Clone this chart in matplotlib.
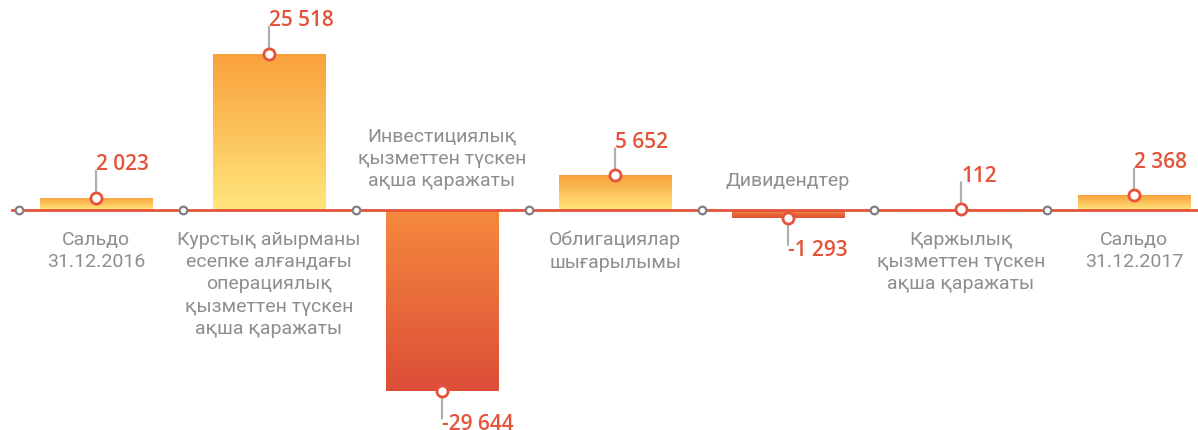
import numpy as np
import matplotlib
matplotlib.use("Agg")
import matplotlib.pyplot as plt
from matplotlib.colors import to_rgb

categories = [
    "Сальдо\n31.12.2016",
    "Курстық айырманы\nесепке алғандағы\nоперациялық\nқызметтен түскен\nақша қаражаты",
    "Инвестициялық\nқызметтен түскен\nақша қаражаты",
    "Облигациялар\nшығарылымы",
    "Дивидендтер",
    "Қаржылық\nқызметтен түскен\nақша қаражаты",
    "Сальдо\n31.12.2017",
]
values = [2023, 25518, -29644, 5652, -1293, 112, 2368]

RED = "#E4533A"
GREY_TXT = "#8E8E8E"
POS_TOP, POS_BOT = "#F9A03B", "#FFE67C"
NEG_TOP, NEG_BOT = "#F68A3D", "#DC4D38"

plt.rcParams["font.family"] = ["Open Sans", "DejaVu Sans"]
CAT_FONT = ["Roboto", "DejaVu Sans"]

fig = plt.figure(figsize=(11.98, 4.30), dpi=100)
ax = fig.add_axes([0, 0, 1, 1])
ax.axis("off")

x = np.arange(len(values))


def gradient(top, bottom, n=256):
    t = np.linspace(0, 1, n)[:, None]
    a, b = np.array(to_rgb(top)), np.array(to_rgb(bottom))
    return (a * (1 - t) + b * t)[:, None, :]


bars = ax.bar(x, values, width=0.65, color="none", edgecolor="none", zorder=1)
for bar, v in zip(bars, values):
    grad = gradient(POS_TOP, POS_BOT) if v >= 0 else gradient(NEG_TOP, NEG_BOT)
    x0 = bar.get_x()
    im = ax.imshow(grad, extent=[x0, x0 + bar.get_width(), min(0, v), max(0, v)],
                   aspect="auto", zorder=1, interpolation="bilinear")
    im.set_clip_path(bar)

# baseline with separators
ax.axhline(0, xmin=0.01, xmax=1, color=RED, lw=2, zorder=2)
seps = x - 0.5
seps[0] += 0.055
ax.plot(seps, np.zeros_like(seps), "o", ms=5.5, mfc="white", mec="#7F7F7F", mew=1.6, zorder=3)

px = 0.72  # points per pixel at 100 dpi
for xi, v, cat in zip(x, values, categories):
    sign = 1 if v >= 0 else -1
    ax.annotate("", xy=(xi, v), xytext=(0, sign * 27 * px), textcoords="offset points",
                arrowprops=dict(arrowstyle="-", color="#AFAFAF", lw=1.6, shrinkA=0, shrinkB=0),
                zorder=3)
    ax.plot([xi], [v], "o", ms=8, mfc="white", mec=RED, mew=2, zorder=4)
    txt = f"{abs(v):,}".replace(",", " ")
    if v < 0:
        txt = "-" + txt
    ax.annotate(txt, xy=(xi, v), xytext=(0, sign * 33 * px), textcoords="offset points",
                ha="left", va="center", fontsize=15, color=RED, fontweight="semibold")
    if v >= 0:
        ax.annotate(cat, xy=(xi, 0), xytext=(0, -21 * px), textcoords="offset points",
                    ha="center", va="top", fontsize=14, color=GREY_TXT, linespacing=1.3,
                    family=CAT_FONT)
    else:
        ax.annotate(cat, xy=(xi, 0), xytext=(0, 20 * px), textcoords="offset points",
                    ha="center", va="bottom", fontsize=14, color=GREY_TXT, linespacing=1.3,
                    family=CAT_FONT)

ax.set_xlim(-0.555, 6.37)
ax.set_ylim(-35950, 34310)

fig.savefig("out.png", dpi=100, facecolor="white")
